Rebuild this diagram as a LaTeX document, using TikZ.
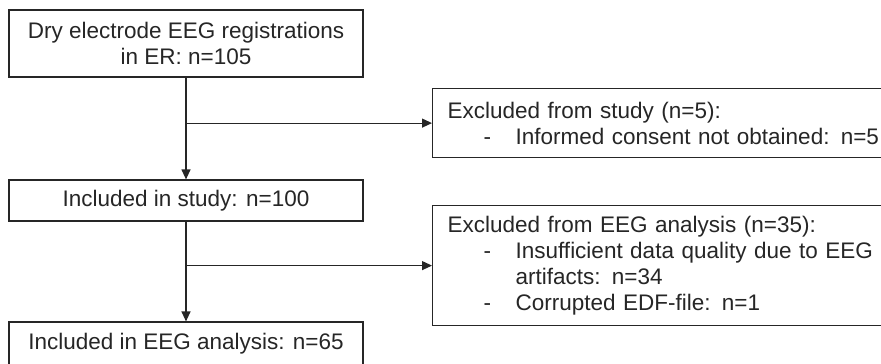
\documentclass[tikz,border=0pt]{standalone}
\usepackage{fontspec}
\setmainfont{Liberation Sans}
\usetikzlibrary{arrows.meta,positioning}
\tikzset{
    flowbox/.style={draw=black!85, line width=1.2pt, fill=white, text=black!85,
        minimum width=354pt, inner sep=0pt, align=center,
        font=\fontsize{22.5}{26}\selectfont},
    exclbox/.style={draw=black!85, line width=1.2pt, fill=white, text=black!85,
        anchor=north west, text width=440pt, inner xsep=15pt, inner ysep=0pt,
        align=left, font=\fontsize{22.5}{26}\selectfont},
    flowarrow/.style={draw=black!85, line width=1.2pt, -{Triangle[length=10pt,width=9pt]}}
}
\newcommand{\exitem}[1]{\hspace*{36pt}\makebox[32pt][l]{-}#1}
\newcommand{\excont}[1]{\hspace*{68pt}#1}
\begin{document}
\begin{tikzpicture}[x=1pt, y=-1pt]
    \useasboundingbox (0,0) rectangle (881,364);

    % main column
    \node[flowbox, minimum height=67pt] (reg) at (186,43.5)
        {Dry electrode EEG registrations\\in ER: n=105};
    \node[flowbox, minimum height=41pt] (study) at (186,200.5)
        {Included in study: n=100};
    \node[flowbox, minimum height=44pt] (eeg) at (186,344)
        {Included in EEG analysis: n=65};

    % exclusions
    \node[exclbox, minimum height=69pt] (exstudy) at (432,88)
        {Excluded from study (n=5):\\
         \exitem{Informed consent not obtained: n=5}};
    \node[exclbox, minimum height=120pt] (exeeg) at (432,205)
        {Excluded from EEG analysis (n=35):\\
         \exitem{Insufficient data quality due to EEG}\\
         \excont{artifacts: n=34}\\
         \exitem{Corrupted EDF-file: n=1}};

    % arrows
    \draw[flowarrow] (reg.south) -- (study.north);
    \draw[flowarrow] (study.south) -- (eeg.north);
    \draw[flowarrow] (reg.south |- exstudy.west) -- (exstudy.west);
    \draw[flowarrow] (study.south |- exeeg.west) -- (exeeg.west);
\end{tikzpicture}
\end{document}
